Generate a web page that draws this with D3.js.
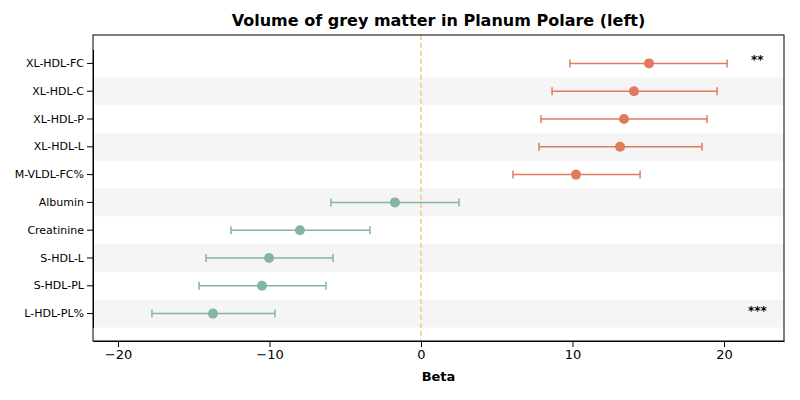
<!DOCTYPE html>
<html><head><meta charset="utf-8">
<script src="https://cdn.jsdelivr.net/npm/d3@7"></script>
<style>body{margin:0;background:#fff}text{font-family:"DejaVu Sans",sans-serif}</style>
</head><body><div id="chart"></div>
<script>
const labels = ["XL-HDL-FC","XL-HDL-C","XL-HDL-P","XL-HDL-L","M-VLDL-FC%","Albumin","Creatinine","S-HDL-L","S-HDL-PL","L-HDL-PL%"];
const beta = [15.05,14.06,13.4,13.14,10.23,-1.72,-7.99,-10.03,-10.5,-13.73];
const lower = [9.83,8.65,7.92,7.79,6.07,-5.94,-12.54,-14.19,-14.65,-17.76];
const upper = [20.2,19.54,18.88,18.55,14.46,2.51,-3.37,-5.81,-6.27,-9.64];
const stars = ["**","","","","","","","","","***"];
const xTicks = [-20,-10,0,10,20];

const width = 800, height = 400;
const margin = {top: 35, right: 16, bottom: 59, left: 93};
const svg = d3.select("#chart").append("svg").attr("width", width).attr("height", height);
const innerW = width - margin.left - margin.right, innerH = height - margin.top - margin.bottom;
const g = svg.append("g").attr("transform", `translate(${margin.left},${margin.top})`);

const x = d3.scaleLinear().domain([-21.65, 23.96]).range([0, innerW]);
const y = d3.scaleBand().domain(labels).range([14.5, innerH - 13.5]).paddingInner(0);

// stripes
g.selectAll("rect.stripe").data(labels.filter((d, i) => i % 2 === 1)).enter()
  .append("rect").attr("x", 0).attr("width", innerW)
  .attr("y", d => y(d)).attr("height", y.bandwidth()).attr("fill", "#f5f5f5");

g.append("line").attr("x1", x(0)).attr("x2", x(0)).attr("y1", 0).attr("y2", innerH)
  .attr("stroke", "#f0c987").attr("stroke-width", 1.5).attr("stroke-dasharray", "5,3");

const color = i => beta[i] > 0 ? "#e07b5f" : "#85b59e";
const cy = d => y(d) + y.bandwidth() / 2;
labels.forEach((d, i) => {
  const row = g.append("g").attr("stroke", color(i)).attr("stroke-width", 1.5);
  row.append("line").attr("x1", x(lower[i])).attr("x2", x(upper[i])).attr("y1", cy(d)).attr("y2", cy(d));
  [lower[i], upper[i]].forEach(v => row.append("line").attr("x1", x(v)).attr("x2", x(v))
    .attr("y1", cy(d) - 4).attr("y2", cy(d) + 4));
  g.append("circle").attr("cx", x(beta[i])).attr("cy", cy(d)).attr("r", 5).attr("fill", color(i));
  if (stars[i]) g.append("text").attr("x", x(22.2)).attr("y", cy(d) + 1).attr("text-anchor", "middle")
    .attr("font-size", 12).attr("font-weight", "bold").text(stars[i]);
});

const xa = g.append("g").attr("transform", `translate(0,${innerH})`)
  .call(d3.axisBottom(x).tickValues(xTicks).tickFormat(d => d < 0 ? "\u2212" + Math.abs(d) : d).tickSizeOuter(0));
xa.selectAll("text").attr("font-size", 13).attr("fill", "#000");
const ya = g.append("g").call(d3.axisLeft(y).tickSizeOuter(0));
ya.selectAll("text").attr("font-size", 11).attr("fill", "#000");
g.append("rect").attr("width", innerW).attr("height", innerH).attr("fill", "none").attr("stroke", "#000");

svg.append("text").attr("x", margin.left + innerW / 2).attr("y", 26).attr("text-anchor", "middle")
  .attr("font-family", "Liberation Sans, Arial, sans-serif")
  .attr("font-size", 16).attr("font-weight", "bold").text("Volume of grey matter in Planum Polare (left)");
svg.append("text").attr("x", margin.left + innerW / 2).attr("y", 381).attr("text-anchor", "middle")
  .attr("font-size", 13).attr("font-weight", "bold").text("Beta");
</script></body></html>
